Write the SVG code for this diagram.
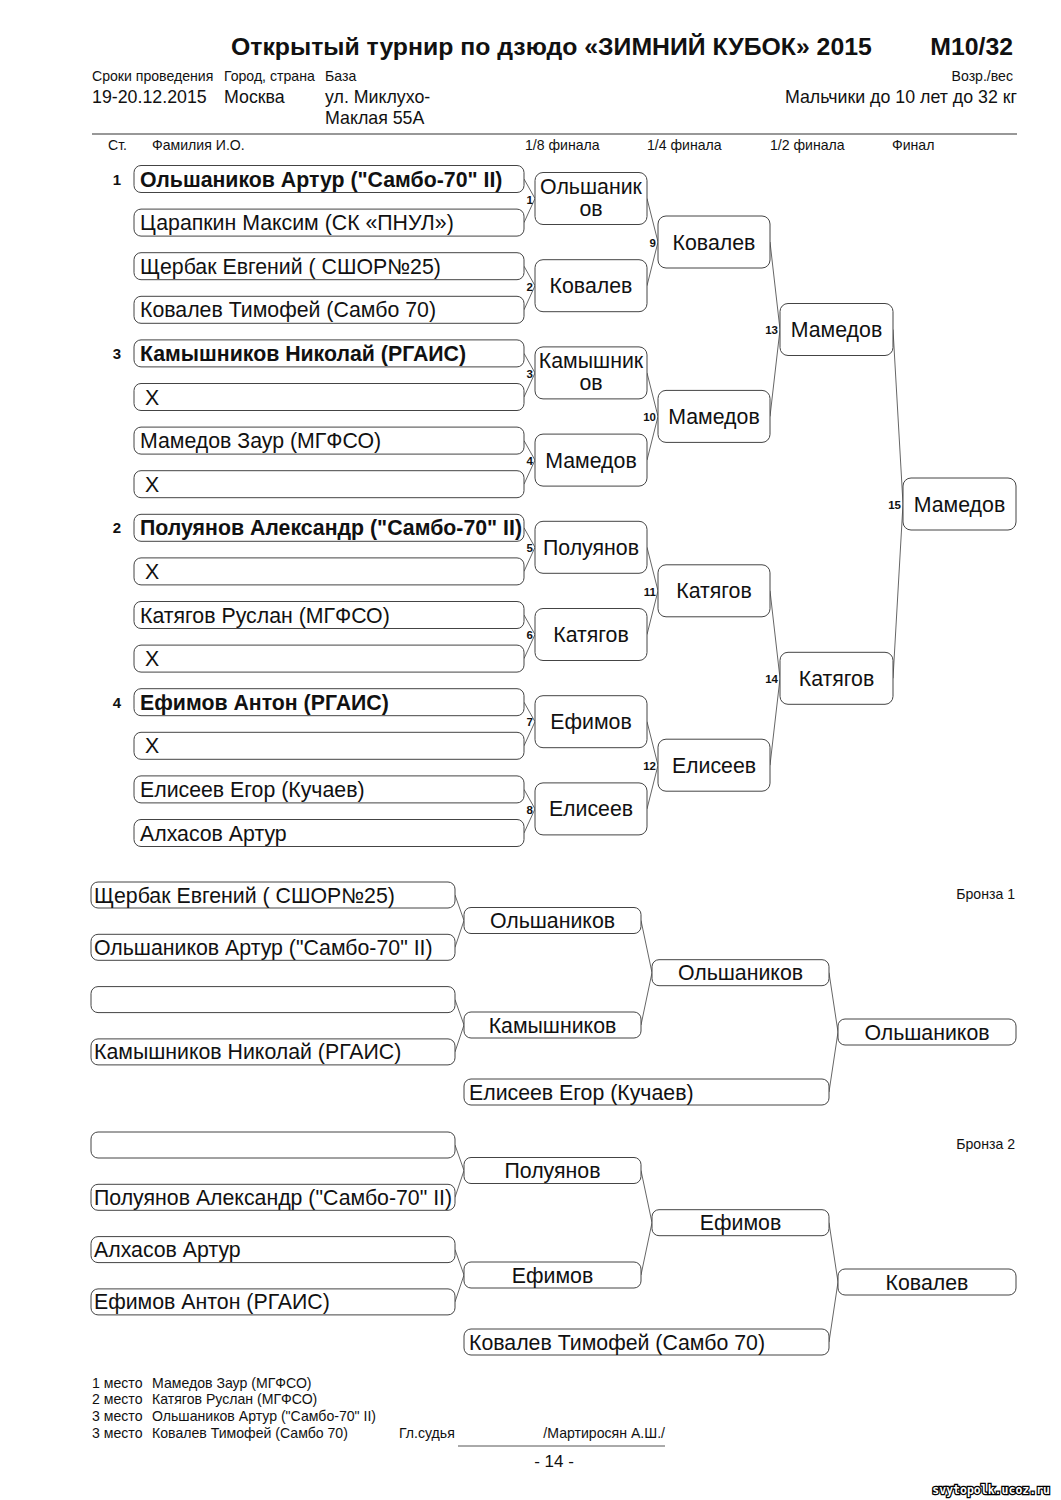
<svg xmlns="http://www.w3.org/2000/svg" width="1061" height="1500" viewBox="0 0 1061 1500">
<style>
text{font-family:"Liberation Sans",Arial,sans-serif;fill:#111}
.box{fill:#fff;stroke:#444;stroke-width:1}
.nm{font-size:21.3px}
.b{font-weight:bold}
.c{text-anchor:middle}
.r{text-anchor:end}
.sm{font-size:14.1px}
.md{font-size:17.8px}
.mn{font-size:11.5px;font-weight:bold;text-anchor:end}
.seed{font-size:15px;font-weight:bold;text-anchor:middle}
.con{fill:none;stroke:#555;stroke-width:0.9}
</style>
<rect width="1061" height="1500" fill="#fff"/>
<g id="header">
<text x="231" y="55" font-size="24.8" font-weight="bold">Открытый турнир по дзюдо «ЗИМНИЙ КУБОК» 2015</text>
<text x="1013" y="55" font-size="24.8" font-weight="bold" class="r">М10/32</text>
<text x="92" y="81" class="sm">Сроки проведения</text>
<text x="224" y="81" class="sm">Город, страна</text>
<text x="325" y="81" class="sm">База</text>
<text x="1013" y="81" class="sm r">Возр./вес</text>
<text x="92" y="103" class="md">19-20.12.2015</text>
<text x="224" y="103" class="md">Москва</text>
<text x="325" y="103" class="md">ул. Миклухо-</text>
<text x="325" y="124" class="md">Маклая 55А</text>
<text x="1017" y="103" class="md r">Мальчики до 10 лет до 32 кг</text>
<line x1="92" y1="134" x2="1017" y2="134" stroke="#333" stroke-width="1.2"/>
<text x="108" y="150" class="sm">Ст.</text>
<text x="152" y="150" class="sm">Фамилия И.О.</text>
<text x="525" y="150" class="sm">1/8 финала</text>
<text x="647" y="150" class="sm">1/4 финала</text>
<text x="770" y="150" class="sm">1/2 финала</text>
<text x="892" y="150" class="sm">Финал</text>
</g>
<g id="connectors">
<path class="con" d="M524,179L535,198.5M524,222.6L535,198.5M524,266.2L535,285.7M524,309.8L535,285.7M524,353.4L535,372.9M524,397L535,372.9M524,440.6L535,460.1M524,484.2L535,460.1M524,527.8L535,547.3M524,571.4L535,547.3M524,615L535,634.5M524,658.6L535,634.5M524,702.2L535,721.7M524,745.8L535,721.7M524,789.4L535,808.9M524,833L535,808.9"/>
<path class="con" d="M647,198.5L658,242M647,285.7L658,242M647,372.9L658,416.4M647,460.1L658,416.4M647,547.3L658,590.8M647,634.5L658,590.8M647,721.7L658,765.2M647,808.9L658,765.2"/>
<path class="con" d="M770,242L780,329.5M770,416.4L780,329.5M770,590.8L780,678.3M770,765.2L780,678.3"/>
<path class="con" d="M893,329.5L903,504M893,678.3L903,504"/>
<path class="con" d="M455,895L464,920.5M455,947.3L464,920.5M455,999.6L464,1025M455,1051.9L464,1025M641,920.5L652,972.7M641,1025L652,972.7M829,972.7L838,1032M829,1092L838,1032"/>
<path class="con" d="M455,1145L464,1170.5M455,1197.3L464,1170.5M455,1249.6L464,1275M455,1301.9L464,1275M641,1170.5L652,1222.7M641,1275L652,1222.7M829,1222.7L838,1282M829,1342L838,1282"/>
</g>
<g id="match-numbers">
<text x="533" y="204" class="mn">1</text>
<text x="533" y="291" class="mn">2</text>
<text x="533" y="378" class="mn">3</text>
<text x="533" y="465" class="mn">4</text>
<text x="533" y="552" class="mn">5</text>
<text x="533" y="639" class="mn">6</text>
<text x="533" y="726" class="mn">7</text>
<text x="533" y="814" class="mn">8</text>
<text x="656" y="247" class="mn">9</text>
<text x="656" y="421" class="mn">10</text>
<text x="656" y="596" class="mn">11</text>
<text x="656" y="770" class="mn">12</text>
<text x="778" y="334" class="mn">13</text>
<text x="778" y="683" class="mn">14</text>
<text x="901" y="509" class="mn">15</text>
</g>
<g id="seeds">
<text x="117" y="185" class="seed">1</text>
<text x="117" y="359" class="seed">3</text>
<text x="117" y="533" class="seed">2</text>
<text x="117" y="708" class="seed">4</text>
</g>
<g id="p1"><rect class="box" x="134" y="165.5" width="390" height="27" rx="7"/><text x="140" y="186.5" class="nm b">Ольшаников Артур ("Самбо-70" II)</text></g>
<g id="p2"><rect class="box" x="134" y="209.1" width="390" height="27" rx="7"/><text x="140" y="230.1" class="nm">Царапкин Максим (СК «ПНУЛ»)</text></g>
<g id="p3"><rect class="box" x="134" y="252.7" width="390" height="27" rx="7"/><text x="140" y="273.7" class="nm">Щербак Евгений ( СШОР№25)</text></g>
<g id="p4"><rect class="box" x="134" y="296.3" width="390" height="27" rx="7"/><text x="140" y="317.3" class="nm">Ковалев Тимофей (Самбо 70)</text></g>
<g id="p5"><rect class="box" x="134" y="339.9" width="390" height="27" rx="7"/><text x="140" y="360.9" class="nm b">Камышников Николай (РГАИС)</text></g>
<g id="p6"><rect class="box" x="134" y="383.5" width="390" height="27" rx="7"/><text x="145" y="404.5" class="nm">X</text></g>
<g id="p7"><rect class="box" x="134" y="427.1" width="390" height="27" rx="7"/><text x="140" y="448.1" class="nm">Мамедов Заур (МГФСО)</text></g>
<g id="p8"><rect class="box" x="134" y="470.7" width="390" height="27" rx="7"/><text x="145" y="491.7" class="nm">X</text></g>
<g id="p9"><rect class="box" x="134" y="514.3" width="390" height="27" rx="7"/><text x="140" y="535.3" class="nm b">Полуянов Александр ("Самбо-70" II)</text></g>
<g id="p10"><rect class="box" x="134" y="557.9" width="390" height="27" rx="7"/><text x="145" y="578.9" class="nm">X</text></g>
<g id="p11"><rect class="box" x="134" y="601.5" width="390" height="27" rx="7"/><text x="140" y="622.5" class="nm">Катягов Руслан (МГФСО)</text></g>
<g id="p12"><rect class="box" x="134" y="645.1" width="390" height="27" rx="7"/><text x="145" y="666.1" class="nm">X</text></g>
<g id="p13"><rect class="box" x="134" y="688.7" width="390" height="27" rx="7"/><text x="140" y="709.7" class="nm b">Ефимов Антон (РГАИС)</text></g>
<g id="p14"><rect class="box" x="134" y="732.3" width="390" height="27" rx="7"/><text x="145" y="753.3" class="nm">X</text></g>
<g id="p15"><rect class="box" x="134" y="775.9" width="390" height="27" rx="7"/><text x="140" y="796.9" class="nm">Елисеев Егор (Кучаев)</text></g>
<g id="p16"><rect class="box" x="134" y="819.5" width="390" height="27" rx="7"/><text x="140" y="840.5" class="nm">Алхасов Артур</text></g>
<g id="m1"><rect class="box" x="535" y="172.5" width="112" height="52" rx="8"/><text x="591" y="193.5" class="nm c">Ольшаник</text><text x="591" y="215.5" class="nm c">ов</text></g>
<g id="m2"><rect class="box" x="535" y="259.7" width="112" height="52" rx="8"/><text x="591" y="293.2" class="nm c">Ковалев</text></g>
<g id="m3"><rect class="box" x="535" y="346.9" width="112" height="52" rx="8"/><text x="591" y="367.9" class="nm c">Камышник</text><text x="591" y="389.9" class="nm c">ов</text></g>
<g id="m4"><rect class="box" x="535" y="434.1" width="112" height="52" rx="8"/><text x="591" y="467.6" class="nm c">Мамедов</text></g>
<g id="m5"><rect class="box" x="535" y="521.3" width="112" height="52" rx="8"/><text x="591" y="554.8" class="nm c">Полуянов</text></g>
<g id="m6"><rect class="box" x="535" y="608.5" width="112" height="52" rx="8"/><text x="591" y="642" class="nm c">Катягов</text></g>
<g id="m7"><rect class="box" x="535" y="695.7" width="112" height="52" rx="8"/><text x="591" y="729.2" class="nm c">Ефимов</text></g>
<g id="m8"><rect class="box" x="535" y="782.9" width="112" height="52" rx="8"/><text x="591" y="816.4" class="nm c">Елисеев</text></g>
<g id="m9"><rect class="box" x="658" y="216" width="112" height="52" rx="8"/><text x="714" y="249.5" class="nm c">Ковалев</text></g>
<g id="m10"><rect class="box" x="658" y="390.4" width="112" height="52" rx="8"/><text x="714" y="423.9" class="nm c">Мамедов</text></g>
<g id="m11"><rect class="box" x="658" y="564.8" width="112" height="52" rx="8"/><text x="714" y="598.3" class="nm c">Катягов</text></g>
<g id="m12"><rect class="box" x="658" y="739.2" width="112" height="52" rx="8"/><text x="714" y="772.7" class="nm c">Елисеев</text></g>
<g id="m13"><rect class="box" x="780" y="303.5" width="113" height="52" rx="8"/><text x="836.5" y="337" class="nm c">Мамедов</text></g>
<g id="m14"><rect class="box" x="780" y="652.3" width="113" height="52" rx="8"/><text x="836.5" y="685.8" class="nm c">Катягов</text></g>
<g id="m15"><rect class="box" x="903" y="478" width="113" height="52" rx="8"/><text x="959.5" y="511.5" class="nm c">Мамедов</text></g>
<text x="1015" y="899" class="sm r">Бронза 1</text>
<g id="b1a1"><rect class="box" x="91" y="882" width="364" height="26" rx="7"/><text x="94" y="902.5" class="nm">Щербак Евгений ( СШОР№25)</text></g>
<g id="b1a2"><rect class="box" x="91" y="934.3" width="364" height="26" rx="7"/><text x="94" y="954.8" class="nm">Ольшаников Артур ("Самбо-70" II)</text></g>
<g id="b1a3"><rect class="box" x="91" y="986.6" width="364" height="26" rx="7"/></g>
<g id="b1a4"><rect class="box" x="91" y="1038.9" width="364" height="26" rx="7"/><text x="94" y="1059.4" class="nm">Камышников Николай (РГАИС)</text></g>
<g id="b1b1"><rect class="box" x="464" y="907.5" width="177" height="26" rx="7"/><text x="552.5" y="928" class="nm c">Ольшаников</text></g>
<g id="b1b2"><rect class="box" x="464" y="1012" width="177" height="26" rx="7"/><text x="552.5" y="1032.5" class="nm c">Камышников</text></g>
<g id="b1c"><rect class="box" x="652" y="959.7" width="177" height="26" rx="7"/><text x="740.5" y="980.2" class="nm c">Ольшаников</text></g>
<g id="b1e"><rect class="box" x="464" y="1079" width="365" height="26" rx="7"/><text x="469" y="1099.5" class="nm">Елисеев Егор (Кучаев)</text></g>
<g id="b1d"><rect class="box" x="838" y="1019" width="178" height="26" rx="7"/><text x="927" y="1039.5" class="nm c">Ольшаников</text></g>
<text x="1015" y="1149" class="sm r">Бронза 2</text>
<g id="b2a1"><rect class="box" x="91" y="1132" width="364" height="26" rx="7"/></g>
<g id="b2a2"><rect class="box" x="91" y="1184.3" width="364" height="26" rx="7"/><text x="94" y="1204.8" class="nm">Полуянов Александр ("Самбо-70" II)</text></g>
<g id="b2a3"><rect class="box" x="91" y="1236.6" width="364" height="26" rx="7"/><text x="94" y="1257.1" class="nm">Алхасов Артур</text></g>
<g id="b2a4"><rect class="box" x="91" y="1288.9" width="364" height="26" rx="7"/><text x="94" y="1309.4" class="nm">Ефимов Антон (РГАИС)</text></g>
<g id="b2b1"><rect class="box" x="464" y="1157.5" width="177" height="26" rx="7"/><text x="552.5" y="1178" class="nm c">Полуянов</text></g>
<g id="b2b2"><rect class="box" x="464" y="1262" width="177" height="26" rx="7"/><text x="552.5" y="1282.5" class="nm c">Ефимов</text></g>
<g id="b2c"><rect class="box" x="652" y="1209.7" width="177" height="26" rx="7"/><text x="740.5" y="1230.2" class="nm c">Ефимов</text></g>
<g id="b2e"><rect class="box" x="464" y="1329" width="365" height="26" rx="7"/><text x="469" y="1349.5" class="nm">Ковалев Тимофей (Самбо 70)</text></g>
<g id="b2d"><rect class="box" x="838" y="1269" width="178" height="26" rx="7"/><text x="927" y="1289.5" class="nm c">Ковалев</text></g>
<g id="footer">
<text x="92" y="1388" class="sm">1 место</text><text x="152" y="1388" class="sm">Мамедов Заур (МГФСО)</text>
<text x="92" y="1404" class="sm">2 место</text><text x="152" y="1404" class="sm">Катягов Руслан (МГФСО)</text>
<text x="92" y="1421" class="sm">3 место</text><text x="152" y="1421" class="sm">Ольшаников Артур ("Самбо-70" II)</text>
<text x="92" y="1438" class="sm">3 место</text><text x="152" y="1438" class="sm">Ковалев Тимофей (Самбо 70)</text>
<text x="399" y="1438" class="sm">Гл.судья</text>
<text x="665" y="1438" class="sm r">/Мартиросян А.Ш./</text>
<line x1="458" y1="1446" x2="665" y2="1446" stroke="#555" stroke-width="1"/>
<text x="554" y="1467" font-size="17" class="c">- 14 -</text>
<text x="1050" y="1494" font-size="11.5" font-weight="bold" class="r" style="font-family:'DejaVu Sans Mono',monospace;fill:#fff;stroke:#000;stroke-width:2.5;paint-order:stroke">svytopolk.ucoz.ru</text>
</g>
</svg>
